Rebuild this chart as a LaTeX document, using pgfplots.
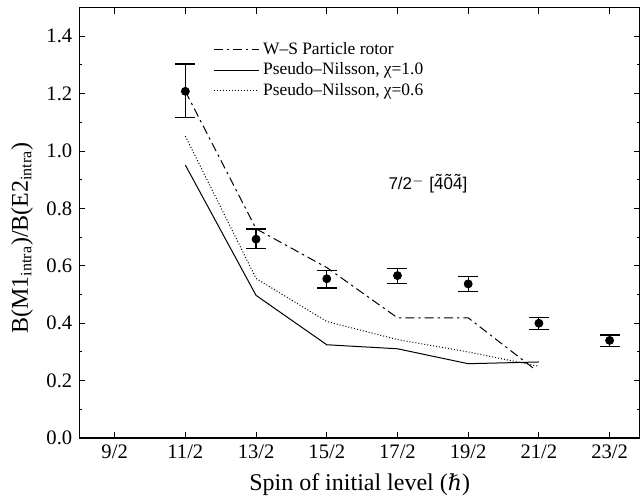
\documentclass[border=0pt]{standalone}
\usepackage{fontspec}
\setmainfont{Liberation Serif}
\newfontfamily\sansf{Liberation Sans}
\newfontfamily\dvserif{DejaVu Serif}
\usepackage{pgfplots}
\pgfplotsset{compat=1.18}
\newcommand\tld[1]{\ooalign{#1\cr\hidewidth\raisebox{0.2em}{\char"02DC}\hidewidth\cr}}

\begin{document}
\begin{tikzpicture}
  \begin{axis}[
      scale only axis,
      width=280.4pt, height=215.3pt,
      xmin=4, xmax=11.93,
      ymin=0, ymax=1.5,
      xtick={4.5,5.5,6.5,7.5,8.5,9.5,10.5,11.5},
      xticklabels={9/2,11/2,13/2,15/2,17/2,19/2,21/2,23/2},
      ytick={0,0.2,0.4,0.6,0.8,1.0,1.2,1.4},
      yticklabel style={/pgf/number format/.cd, fixed, fixed zerofill, precision=1},
      /pgf/number format/assume math mode=true,
      minor y tick num=1,
      tick align=inside,
      major tick length=3pt,
      minor tick length=1.6pt,
      tick style={black, line width=0.5pt},
      axis line style={line width=0.6pt},
      tick label style={font=\fontsize{10.3}{12}\selectfont},
      xlabel={Spin of initial level ({\dvserif\fontsize{11}{13}\selectfont ℏ})},
      ylabel={B(M1$_{\mathrm{intra}}$)/B(E2$_{\mathrm{intra}}$)},
      label style={font=\fontsize{12}{14}\selectfont},
      xlabel style={at={(rel axis cs:0.5,0)}, anchor=center, yshift=-23.5pt},
      ylabel style={at={(rel axis cs:0,0.465)}, anchor=center, yshift=28.6pt},
      legend style={at={(rel axis cs:0.238,0.93)}, anchor=north west,
        draw=none, fill=none, inner sep=0pt, row sep=-1.2pt,
        font=\fontsize{8.7}{10}\selectfont, cells={anchor=west}},
      legend image code/.code={\draw[#1] (0pt,0pt) -- (22.5pt,0pt);},
    ]
    \addplot[black, line width=0.5pt, dash pattern=on 4.5pt off 2pt on 1.2pt off 2pt]
      coordinates {(5.5,1.208)(6.5,0.729)(7.5,0.594)(8.5,0.419)(9.5,0.419)(10.46,0.236)};
    \addlegendentry{W--S Particle rotor}
    \addplot[black, line width=0.5pt]
      coordinates {(5.5,0.951)(6.5,0.497)(7.5,0.325)(8.5,0.311)(9.5,0.259)(10.5,0.265)};
    \addlegendentry{Pseudo--Nilsson, χ=1.0}
    \addplot[black, line width=0.5pt, dash pattern=on 0.5pt off 1pt]
      coordinates {(5.5,1.052)(6.5,0.556)(7.5,0.406)(8.5,0.343)(9.5,0.300)(10.5,0.250)};
    \addlegendentry{Pseudo--Nilsson, χ=0.6}
    \addplot[black, only marks, mark=*, mark size=2pt, forget plot,
      error bars/.cd, y dir=both, y explicit,
      error bar style={line width=0.6pt},
      error mark=-,
      error mark options={black, rotate=90, line width=0.6pt, mark size=5pt}]
      coordinates {
        (5.5,1.208) += (0,0.095) -= (0,0.092)
        (6.5,0.693) += (0,0.035) -= (0,0.034)
        (7.5,0.555) += (0,0.028) -= (0,0.032)
        (8.5,0.566) += (0,0.024) -= (0,0.027)
        (9.5,0.537) += (0,0.025) -= (0,0.026)
        (10.5,0.400) += (0,0.021) -= (0,0.023)
        (11.5,0.340) += (0,0.019) -= (0,0.022)
      };
    \node[font=\sansf\fontsize{8.5}{10}\selectfont] at (axis cs:8.93,0.882)
      {7/2$^{-}$ [\tld{4}\tld{0}\tld{4}]};
    \coordinate (bl) at (rel axis cs:0,0);
    \coordinate (tr) at (rel axis cs:1,1);
  \end{axis}
  \pgfresetboundingbox
  \path ([shift={(-39.65pt,-30.5pt)}]bl) rectangle ([shift={(0pt,3.75pt)}]tr);
\end{tikzpicture}
\end{document}
